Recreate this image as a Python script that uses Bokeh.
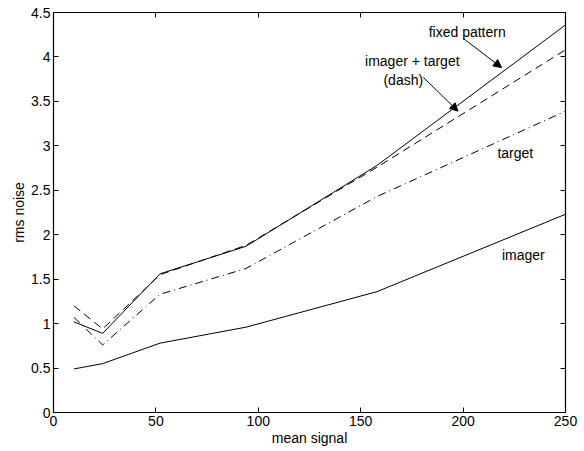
from bokeh.plotting import figure
from bokeh.models import LinearAxis, Range1d, Arrow, NormalHead, Label, FixedTicker
from bokeh.embed import file_html
from bokeh.resources import INLINE

mean_signal = [10, 24, 52, 94, 158, 250]
fixed_pattern = [1.02, 0.89, 1.56, 1.87, 2.78, 4.36]
imager_target = [1.20, 0.94, 1.55, 1.88, 2.76, 4.08]
target = [1.07, 0.76, 1.33, 1.62, 2.43, 3.39]
imager = [0.49, 0.55, 0.78, 0.96, 1.36, 2.23]

x_ticks = [0, 50, 100, 150, 200, 250]
y_ticks = [0, 0.5, 1, 1.5, 2, 2.5, 3, 3.5, 4, 4.5]

FONT = "Liberation Sans"

p = figure(width=584, height=451, output_backend="svg", toolbar_location=None,
           x_range=Range1d(0, 250), y_range=Range1d(0, 4.5),
           min_border_left=53, min_border_right=19, min_border_top=12, min_border_bottom=39)
p.grid.visible = False
p.outline_line_color = "black"
p.outline_line_width = 1.2
p.background_fill_color = "white"
p.border_fill_color = "white"

for ax in (p.xaxis[0], p.yaxis[0]):
    ax.major_tick_in = 5
    ax.major_tick_out = 0
    ax.minor_tick_in = 0
    ax.minor_tick_out = 0
    ax.axis_line_color = "black"
    ax.major_tick_line_color = "black"
    ax.major_label_text_font = FONT
    ax.major_label_text_font_size = "14px"
    ax.major_label_text_color = "black"
    ax.axis_label_text_font = FONT
    ax.axis_label_text_font_size = "14px"
    ax.axis_label_text_font_style = "normal"
    ax.axis_label_text_color = "black"
    ax.major_label_standoff = 3
    ax.axis_label_standoff = 1

p.xaxis.ticker = FixedTicker(ticks=x_ticks)
p.yaxis.ticker = FixedTicker(ticks=y_ticks)
p.xaxis.axis_label = "mean signal"
p.yaxis.axis_label = "rms noise"

top = LinearAxis(ticker=FixedTicker(ticks=x_ticks), major_tick_in=5, major_tick_out=0,
                 minor_tick_in=0, minor_tick_out=0, major_label_text_color=None,
                 major_label_standoff=0, axis_line_color="black")
right = LinearAxis(ticker=FixedTicker(ticks=y_ticks), major_tick_in=5, major_tick_out=0,
                   minor_tick_in=0, minor_tick_out=0, major_label_text_color=None,
                   major_label_standoff=0, axis_line_color="black")
p.add_layout(top, "above")
p.add_layout(right, "right")

p.line(mean_signal, fixed_pattern, line_color="black", line_width=1)
p.line(mean_signal, imager_target, line_color="black", line_width=1, line_dash="8 5")
p.line(mean_signal, target, line_color="black", line_width=1, line_dash="8 4 1 4")
p.line(mean_signal, imager, line_color="black", line_width=1)

def lab(x, y, t):
    p.add_layout(Label(x=x, y=y, text=t, text_font=FONT, text_font_size="14px",
                       text_font_style="normal",
                       text_align="center", text_baseline="middle", text_color="black"))

lab(202, 4.28, "fixed pattern")
lab(175.2, 3.95, "imager + target")
lab(170.8, 3.74, "(dash)")
lab(225.5, 2.92, "target")
lab(229.4, 1.77, "imager")

for (x0, y0, x1, y1) in [(200, 4.21, 218.8, 3.88), (180.6, 3.77, 197.5, 3.39)]:
    p.add_layout(Arrow(end=NormalHead(size=8, fill_color="black", line_color="black"),
                       x_start=x0, y_start=y0, x_end=x1, y_end=y1,
                       line_color="black", line_width=1))

open("out.html", "w").write(file_html(p, INLINE))
